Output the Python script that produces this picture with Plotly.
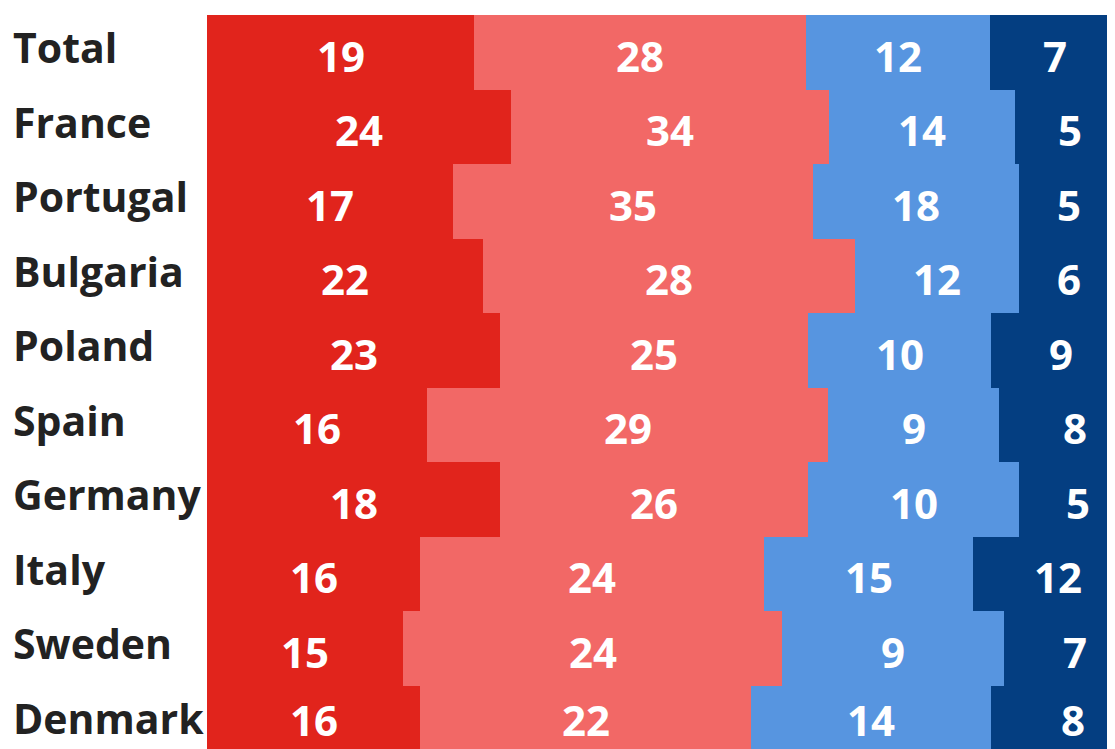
import plotly.graph_objects as go
import numpy as np

categories = ["Total", "France", "Portugal", "Bulgaria", "Poland", "Spain",
              "Germany", "Italy", "Sweden", "Denmark"]

# value labels shown on each segment
labels_1 = [19, 24, 17, 22, 23, 16, 18, 16, 15, 16]
labels_2 = [28, 34, 35, 28, 25, 29, 26, 24, 24, 22]
labels_3 = [12, 14, 18, 12, 10, 9, 10, 15, 9, 14]
labels_4 = [7, 5, 5, 6, 9, 8, 5, 12, 7, 8]

# drawn segment lengths (they do not follow the labels)
width_1 = [26.7, 30.4, 24.6, 27.6, 29.3, 22.0, 29.3, 21.3, 19.6, 21.3]
width_2 = [33.2, 31.8, 36.0, 37.2, 30.8, 40.1, 30.8, 34.4, 37.9, 33.1]
width_3 = [18.4, 18.6, 20.6, 16.4, 18.3, 17.1, 21.1, 20.9, 22.2, 24.0]
width_4 = [13.0, 11.0, 10.0, 10.0, 14.0, 15.2, 11.8, 17.0, 14.2, 16.4]

colors = ["#E1241C", "#F26866", "#5795E0", "#043E81"]
FONT = "Open Sans"

fig = go.Figure()
widths = [width_1, width_2, width_3, width_4]
labels = [labels_1, labels_2, labels_3, labels_4]

for w, c in zip(widths, colors):
    fig.add_trace(go.Bar(
        y=categories, x=w, orientation="h",
        marker=dict(color=c, line=dict(width=0)),
        showlegend=False, hoverinfo="skip",
    ))

cum = np.zeros(len(categories))
for w, lab in zip(widths, labels):
    w = np.array(w)
    mids = cum + w / 2
    for i, (cat, m, v) in enumerate(zip(categories, mids, lab)):
        last = i == len(categories) - 1
        fig.add_annotation(
            x=float(m), y=cat, xref="x", yref="y", showarrow=False,
            text=str(v), yshift=3 if last else -3,
            font=dict(color="white", size=42, family=FONT, weight=700),
        )
    cum = cum + w

for cat in categories:
    fig.add_annotation(
        x=0, xref="paper", xshift=-196, xanchor="left",
        y=cat, yref="y", yshift=5, showarrow=False,
        text=cat, font=dict(size=41, color="#222222", family=FONT, weight=700),
    )

fig.update_layout(
    width=1107, height=741,
    margin=dict(l=199, r=0, t=7, b=0),
    barmode="stack", bargap=0,
    paper_bgcolor="white", plot_bgcolor="white",
    xaxis=dict(visible=False, range=[0, 90.8]),
    yaxis=dict(showticklabels=False, showgrid=False, zeroline=False,
               range=[9.35, -0.5]),
)

fig.write_html("out.html")
